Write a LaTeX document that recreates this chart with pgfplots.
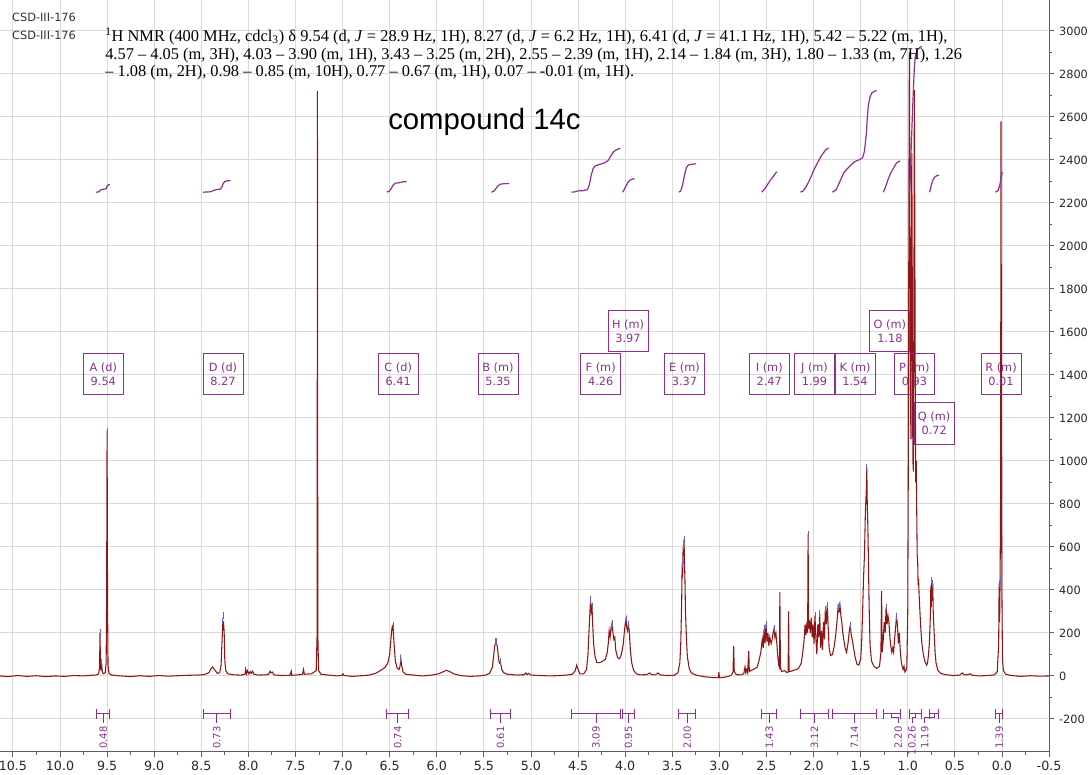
\documentclass[border=0pt]{standalone}
\usepackage{fontspec}
\setmainfont{Liberation Serif}
\newfontfamily\dejavu{DejaVu Sans}
\newfontfamily\arialfont{Liberation Sans}
\usepackage{pgfplots}
\pgfplotsset{compat=1.18}

\definecolor{specred}{RGB}{142,22,22}
\definecolor{intpurple}{RGB}{140,48,140}
\definecolor{gridgray}{RGB}{218,218,218}
\definecolor{axisgray}{RGB}{95,95,95}
\definecolor{pickblue}{RGB}{105,95,205}

% integration bracket: from, to, label position, value
\newcommand{\intbar}[4]{%
  \draw[intpurple, line width=0.7pt]
    (axis cs:#1,-175) -- (axis cs:#2,-175)
    (axis cs:#1,-152) -- (axis cs:#1,-198)
    (axis cs:#2,-152) -- (axis cs:#2,-198)
    (axis cs:#3,-175) -- (axis cs:#3,-220);
  \node[intpurple, rotate=90, anchor=east, inner sep=1pt,
        font=\dejavu\fontsize{7.5}{9}\selectfont] at (axis cs:#3,-228) {#4};}
% bracket whose label sits beside its centre
\newcommand{\intbaroff}[5]{%
  \draw[intpurple, line width=0.7pt]
    (axis cs:#1,-175) -- (axis cs:#2,-175)
    (axis cs:#1,-152) -- (axis cs:#1,-198)
    (axis cs:#2,-152) -- (axis cs:#2,-198)
    (axis cs:#3,-175) -- (axis cs:#3,-195) -- (axis cs:#4,-195) -- (axis cs:#4,-220);
  \node[intpurple, rotate=90, anchor=east, inner sep=1pt,
        font=\dejavu\fontsize{7.5}{9}\selectfont] at (axis cs:#4,-228) {#5};}
% multiplet label box
\newcommand{\peaklab}[4]{%
  \node[draw=intpurple, text=intpurple, line width=0.6pt, align=center,
        font=\dejavu\fontsize{8.5}{10.5}\selectfont, minimum width=30pt,
        minimum height=31pt, inner sep=1pt] at (axis cs:#1,#2) {#3\\#4};}

\begin{document}
\begin{tikzpicture}
\begin{axis}[
  name=spec,
  scale only axis,
  width=786.8pt, height=563.4pt,
  xmin=-0.5, xmax=10.637, x dir=reverse,
  ymin=-350, ymax=3144,
  axis x line*=bottom, axis y line*=right,
  axis line style={axisgray, line width=0.8pt},
  xtick={-0.5,0,0.5,1,1.5,2,2.5,3,3.5,4,4.5,5,5.5,6,6.5,7,7.5,8,8.5,9,9.5,10,10.5},
  minor x tick num=1,
  ytick={-200,0,200,400,600,800,1000,1200,1400,1600,1800,2000,2200,2400,2600,2800,3000},
  minor y tick num=1,
  grid=major,
  major grid style={gridgray, line width=0.7pt},
  tick align=outside,
  major tick length=4pt, minor tick length=2.5pt,
  every tick/.style={axisgray, line width=0.7pt},
  xticklabel style={font=\dejavu\fontsize{9.5}{11}\selectfont, text=black!85,
    /pgf/number format/.cd, fixed, fixed zerofill, precision=1, assume math mode=true},
  yticklabel style={font=\dejavu\fontsize{8.5}{10}\selectfont, text=black!85,
    /pgf/number format/.cd, fixed, 1000 sep={}, assume math mode=true},
  clip=false,
]

% 1H spectrum
\addplot[specred, line width=0.8pt] coordinates {
(10.637,0) (10.55,-3) (10.45,2) (10.35,-2) (10.25,1) (10.15,-3) (10.05,0) (9.95,-2)
(9.85,2) (9.75,0) (9.68,3) (9.62,4) (9.59,10) (9.58,40) (9.575,200) (9.57,45)
(9.565,25) (9.558,60) (9.552,22) (9.54,10) (9.52,15) (9.51,60) (9.505,350) (9.50,1140)
(9.495,330) (9.49,50) (9.48,12) (9.45,4) (9.35,0) (9.25,-3) (9.15,1) (9.05,-2)
(8.95,2) (8.85,-1) (8.75,1) (8.65,3) (8.55,4) (8.47,6) (8.42,15) (8.395,35)
(8.38,42) (8.36,30) (8.33,12) (8.305,15) (8.29,50) (8.28,160) (8.272,245) (8.264,250)
(8.257,200) (8.25,70) (8.24,25) (8.22,10) (8.15,5) (8.08,4) (8.035,8) (8.03,30)
(8.02,10) (8.01,25) (7.995,10) (7.98,20) (7.97,12) (7.955,22) (7.94,8) (7.90,4)
(7.82,5) (7.785,8) (7.77,22) (7.76,14) (7.745,18) (7.73,5) (7.65,2) (7.56,3)
(7.545,22) (7.54,3) (7.45,6) (7.425,8) (7.415,30) (7.405,8) (7.33,10) (7.28,25)
(7.27,200) (7.267,2720) (7.263,200) (7.255,25) (7.23,8) (7.15,4) (7.05,0) (7.005,3)
(6.995,10) (6.985,2) (6.9,-2) (6.8,1) (6.72,4) (6.65,12) (6.61,22) (6.58,30)
(6.55,40) (6.52,60) (6.50,100) (6.485,180) (6.475,225) (6.465,235) (6.455,160) (6.44,70)
(6.42,35) (6.40,30) (6.39,45) (6.382,80) (6.375,55) (6.36,20) (6.33,8) (6.25,4)
(6.15,0) (6.05,4) (5.98,10) (5.93,20) (5.90,26) (5.87,22) (5.82,10) (5.75,2)
(5.65,-2) (5.55,0) (5.48,4) (5.44,12) (5.41,40) (5.395,100) (5.385,140) (5.375,155)
(5.365,150) (5.355,130) (5.345,80) (5.335,60) (5.325,65) (5.31,30) (5.29,15) (5.25,8)
(5.15,4) (5.07,6) (5.055,14) (5.04,6) (5.025,12) (5.0,4) (4.9,2) (4.8,0)
(4.7,2) (4.62,4) (4.56,8) (4.53,25) (4.515,50) (4.50,30) (4.48,10) (4.44,10)
(4.41,30) (4.395,100) (4.385,200) (4.375,290) (4.368,350) (4.36,300) (4.352,320) (4.345,240)
(4.335,150) (4.32,90) (4.30,62) (4.27,62) (4.24,68) (4.21,78) (4.19,110) (4.18,150)
(4.17,210) (4.16,180) (4.15,225) (4.14,245) (4.13,200) (4.12,170) (4.11,180) (4.10,120)
(4.08,85) (4.06,80) (4.04,100) (4.02,150) (4.01,200) (4.0,240) (3.99,265) (3.985,230)
(3.975,210) (3.965,240) (3.955,200) (3.945,120) (3.93,60) (3.91,25) (3.88,10) (3.84,5)
(3.77,6) (3.74,14) (3.72,6) (3.68,5) (3.65,14) (3.63,5) (3.56,2) (3.48,3)
(3.44,15) (3.42,60) (3.41,150) (3.40,350) (3.395,520) (3.39,460) (3.385,600) (3.38,560)
(3.375,635) (3.37,520) (3.365,440) (3.36,300) (3.35,180) (3.34,90) (3.32,35) (3.30,15)
(3.25,4) (3.15,-4) (3.06,-8) (3.01,-8) (3.005,18) (3.0,-8) (2.95,-6) (2.90,-2)
(2.87,5) (2.855,20) (2.848,140) (2.842,20) (2.82,6) (2.76,5) (2.74,12) (2.728,42)
(2.72,15) (2.71,30) (2.70,15) (2.688,115) (2.682,20) (2.67,25) (2.64,30) (2.60,40)
(2.58,70) (2.56,110) (2.545,170) (2.535,130) (2.525,220) (2.515,150) (2.505,240) (2.495,160)
(2.485,200) (2.475,140) (2.465,180) (2.45,150) (2.44,170) (2.43,200) (2.42,220) (2.41,180)
(2.40,200) (2.39,150) (2.38,90) (2.37,50) (2.362,40) (2.358,390) (2.352,40) (2.34,20)
(2.31,25) (2.28,15) (2.27,20) (2.265,300) (2.26,20) (2.24,22) (2.20,28) (2.16,35)
(2.13,60) (2.115,110) (2.10,170) (2.09,240) (2.08,190) (2.07,250) (2.063,200) (2.058,660)
(2.053,220) (2.045,260) (2.035,200) (2.025,270) (2.015,180) (2.005,240) (1.995,150) (1.985,280)
(1.975,170) (1.965,100) (1.955,240) (1.945,180) (1.935,290) (1.925,130) (1.915,210) (1.905,120)
(1.895,250) (1.885,170) (1.875,310) (1.865,240) (1.855,330) (1.845,230) (1.835,130) (1.82,95)
(1.80,100) (1.78,140) (1.765,190) (1.75,260) (1.74,320) (1.73,300) (1.72,330) (1.71,280)
(1.70,250) (1.69,200) (1.68,170) (1.665,130) (1.65,110) (1.635,150) (1.62,210) (1.61,235)
(1.60,190) (1.59,170) (1.575,130) (1.56,90) (1.54,55) (1.52,50) (1.50,80) (1.49,150)
(1.48,290) (1.47,450) (1.46,560) (1.45,760) (1.44,870) (1.435,970) (1.43,800) (1.425,720)
(1.42,600) (1.41,320) (1.40,140) (1.385,70) (1.36,45) (1.33,35) (1.30,45) (1.285,110)
(1.278,395) (1.272,110) (1.26,170) (1.25,250) (1.24,200) (1.23,320) (1.22,240) (1.21,280)
(1.20,250) (1.19,180) (1.18,140) (1.17,110) (1.16,130) (1.15,110) (1.14,170) (1.13,220)
(1.12,275) (1.11,240) (1.10,150) (1.09,200) (1.08,120) (1.07,70) (1.06,45) (1.05,30)
(1.04,45) (1.03,18) (1.02,25) (1.01,40) (1.0,300) (0.995,900) (0.99,1800) (0.985,2700)
(0.982,2900) (0.978,2300) (0.972,1300) (0.966,1100) (0.962,1800) (0.957,2430) (0.952,1800) (0.946,1000)
(0.94,950) (0.935,1700) (0.93,2725) (0.926,2200) (0.92,1300) (0.915,900) (0.91,1000) (0.905,770)
(0.90,560) (0.895,540) (0.89,420) (0.885,450) (0.88,380) (0.87,290) (0.86,210) (0.85,150)
(0.835,100) (0.82,70) (0.80,50) (0.79,60) (0.78,100) (0.77,160) (0.76,280) (0.755,420)
(0.75,320) (0.745,445) (0.74,350) (0.735,430) (0.73,300) (0.72,200) (0.71,110) (0.70,60)
(0.68,25) (0.65,12) (0.60,6) (0.52,2) (0.45,4) (0.42,14) (0.40,5) (0.36,6)
(0.34,10) (0.32,4) (0.25,0) (0.15,2) (0.08,5) (0.05,20) (0.035,150) (0.03,430)
(0.025,250) (0.02,445) (0.015,800) (0.01,2580) (0.005,900) (0.0,350) (-0.005,80) (-0.015,25)
(-0.04,8) (-0.1,2) (-0.2,-2) (-0.3,1) (-0.4,-1) (-0.5,0)
};

% peak-picking marks
\addplot[only marks, mark=|, mark size=2.5pt, pickblue, mark options={line width=0.7pt}] coordinates {
(9.575,205) (9.50,1140) (9.558,65) (8.272,255) (8.264,280) (6.465,235) (6.382,80)
(5.375,160) (5.365,160) (5.325,70) (4.368,355) (4.352,325) (4.14,245) (4.15,225)
(3.99,265) (3.965,240) (3.375,635) (3.395,520) (3.385,600) (2.525,220) (2.505,240)
(2.42,220) (2.058,660) (1.985,280) (1.935,290) (1.875,310) (1.855,330) (1.72,330)
(1.74,320) (1.61,235) (1.435,970) (1.23,320) (1.12,275) (0.745,445) (0.735,430)
(0.03,430) (0.02,445)
};

% integral curves
\addplot[intpurple, line width=0.9pt] coordinates {(9.62,2250) (9.59,2251) (9.575,2258) (9.56,2262) (9.51,2266) (9.50,2278) (9.49,2284) (9.47,2285)};
\addplot[intpurple, line width=0.9pt] coordinates {(8.48,2250) (8.40,2252) (8.37,2258) (8.34,2262) (8.30,2264) (8.28,2275) (8.265,2292) (8.25,2300) (8.22,2303) (8.19,2304)};
\addplot[intpurple, line width=0.9pt] coordinates {(6.53,2250) (6.50,2256) (6.48,2270) (6.46,2285) (6.44,2292) (6.40,2294) (6.37,2297) (6.35,2299) (6.32,2299)};
\addplot[intpurple, line width=0.9pt] coordinates {(5.42,2250) (5.39,2256) (5.37,2268) (5.35,2280) (5.32,2288) (5.27,2290) (5.23,2290)};
\addplot[intpurple, line width=0.9pt] coordinates {(4.57,2250) (4.53,2252) (4.50,2256) (4.45,2257) (4.40,2262) (4.38,2285) (4.36,2330) (4.34,2360) (4.32,2372) (4.28,2378) (4.22,2386) (4.18,2398) (4.15,2420) (4.12,2440) (4.08,2450) (4.05,2454)};
\addplot[intpurple, line width=0.9pt] coordinates {(4.03,2250) (4.01,2262) (3.99,2280) (3.97,2296) (3.95,2306) (3.92,2311) (3.90,2313)};
\addplot[intpurple, line width=0.9pt] coordinates {(3.43,2250) (3.41,2256) (3.39,2285) (3.37,2330) (3.35,2365) (3.33,2376) (3.30,2380) (3.25,2382)};
\addplot[intpurple, line width=0.9pt] coordinates {(2.55,2250) (2.52,2265) (2.49,2285) (2.46,2305) (2.43,2322) (2.40,2340) (2.39,2345)};
\addplot[intpurple, line width=0.9pt] coordinates {(2.14,2250) (2.11,2256) (2.08,2275) (2.05,2300) (2.02,2330) (1.99,2360) (1.96,2385) (1.93,2410) (1.90,2430) (1.87,2448) (1.84,2456)};
\addplot[intpurple, line width=0.9pt] coordinates {(1.80,2250) (1.76,2262) (1.72,2300) (1.68,2340) (1.64,2360) (1.60,2378) (1.56,2393) (1.52,2400) (1.48,2410) (1.46,2440) (1.44,2520) (1.43,2590) (1.42,2650) (1.40,2695) (1.38,2712) (1.35,2720) (1.33,2722)};
\addplot[intpurple, line width=0.9pt] coordinates {(1.26,2250) (1.24,2270) (1.22,2295) (1.20,2320) (1.18,2340) (1.16,2355) (1.14,2372) (1.12,2385) (1.10,2392) (1.08,2395)};
\addplot[intpurple, line width=0.9pt] coordinates {(0.98,2250) (0.975,2300) (0.97,2380) (0.96,2500) (0.95,2620) (0.94,2730) (0.93,2830) (0.92,2880) (0.90,2912) (0.87,2924) (0.85,2928)};
\addplot[intpurple, line width=0.9pt] coordinates {(0.77,2250) (0.76,2262) (0.75,2285) (0.73,2310) (0.71,2322) (0.69,2327) (0.67,2329)};
\addplot[intpurple, line width=0.9pt] coordinates {(0.07,2250) (0.04,2258) (0.02,2290) (0.01,2320) (0.0,2338) (-0.01,2342)};

% integration brackets
\intbar{9.61}{9.47}{9.54}{0.48}
\intbar{8.48}{8.19}{8.335}{0.73}
\intbar{6.53}{6.30}{6.415}{0.74}
\intbar{5.43}{5.22}{5.325}{0.61}
\intbar{4.57}{4.05}{4.31}{3.09}
\intbar{4.03}{3.90}{3.965}{0.95}
\intbar{3.43}{3.25}{3.34}{2.00}
\intbar{2.55}{2.39}{2.47}{1.43}
\intbar{2.14}{1.84}{1.99}{3.12}
\intbar{1.80}{1.33}{1.565}{7.14}
\intbaroff{1.26}{1.08}{1.17}{1.10}{2.20}
\intbaroff{0.98}{0.85}{0.915}{0.955}{10.26}
\intbaroff{0.77}{0.67}{0.72}{0.82}{1.19}
\intbar{0.07}{-0.01}{0.03}{1.39}

% multiplet labels
\peaklab{9.54}{1405}{A (d)}{9.54}
\peaklab{8.27}{1405}{D (d)}{8.27}
\peaklab{6.41}{1405}{C (d)}{6.41}
\peaklab{5.35}{1405}{B (m)}{5.35}
\peaklab{4.26}{1405}{F (m)}{4.26}
\peaklab{3.97}{1605}{H (m)}{3.97}
\peaklab{3.37}{1405}{E (m)}{3.37}
\peaklab{2.47}{1405}{I (m)}{2.47}
\peaklab{1.99}{1405}{J (m)}{1.99}
\peaklab{1.56}{1405}{K (m)}{1.54}
\peaklab{1.19}{1605}{O (m)}{1.18}
\peaklab{0.93}{1405}{P (m)}{0.93}
\peaklab{0.72}{1175}{Q (m)}{0.72}
\peaklab{0.01}{1405}{R (m)}{0.01}

% title block
\node[anchor=base west, inner sep=0, text=black!80, font=\dejavu\fontsize{8.5}{10}\selectfont] at (axis cs:10.51,3042) {CSD-III-176};
\node[anchor=base west, inner sep=0, text=black!80, font=\dejavu\fontsize{8.5}{10}\selectfont] at (axis cs:10.51,2958) {CSD-III-176};
\node[anchor=base west, inner sep=0, font=\fontsize{12.3}{14}\selectfont] at (axis cs:9.522,2953)
  {\textsuperscript{1}H NMR (400 MHz, cdcl\textsubscript{3}) δ 9.54 (d, \textit{J} = 28.9 Hz, 1H), 8.27 (d, \textit{J} = 6.2 Hz, 1H), 6.41 (d, \textit{J} = 41.1 Hz, 1H), 5.42 – 5.22 (m, 1H),};
\node[anchor=base west, inner sep=0, font=\fontsize{12.3}{14}\selectfont] at (axis cs:9.522,2867)
  {4.57 – 4.05 (m, 3H), 4.03 – 3.90 (m, 1H), 3.43 – 3.25 (m, 2H), 2.55 – 2.39 (m, 1H), 2.14 – 1.84 (m, 3H), 1.80 – 1.33 (m, 7H), 1.26};
\node[anchor=base west, inner sep=0, font=\fontsize{12.3}{14}\selectfont] at (axis cs:9.522,2786)
  {– 1.08 (m, 2H), 0.98 – 0.85 (m, 10H), 0.77 – 0.67 (m, 1H), 0.07 – -0.01 (m, 1H).};
\node[anchor=base west, inner sep=0, font=\arialfont\fontsize{22}{26}\selectfont] at (axis cs:6.518,2540) {compound 14c};
\end{axis}
\pgfresetboundingbox
\path[use as bounding box] (spec.south west) ++(0,-17.1pt) rectangle ++(818.25pt,580.5pt);
\end{tikzpicture}
\end{document}
